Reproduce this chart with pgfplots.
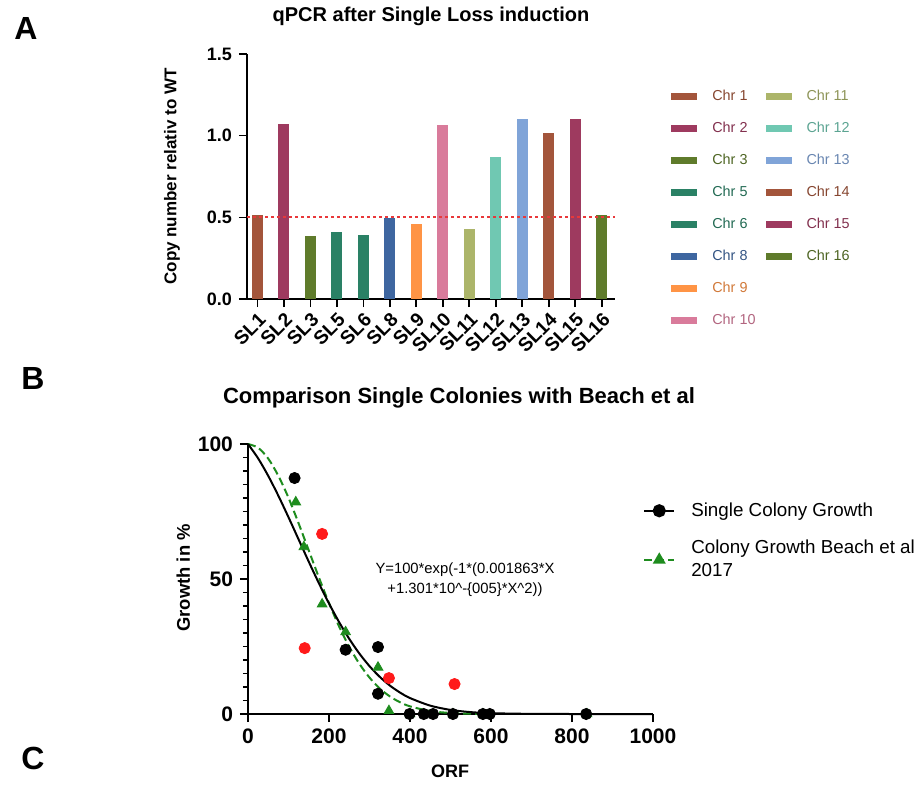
\documentclass[border=0pt]{standalone}
\usepackage{pgfplots}
\pgfplotsset{compat=1.18}
\usepackage{fontspec}
\setmainfont{Liberation Sans}

% bar colours, one per chromosome
\definecolor{cA}{HTML}{A3553B}
\definecolor{cB}{HTML}{9E3A5F}
\definecolor{cC}{HTML}{5F7B2B}
\definecolor{cD}{HTML}{2A8165}
\definecolor{cE}{HTML}{3E66A0}
\definecolor{cF}{HTML}{FF9445}
\definecolor{cG}{HTML}{D97B9B}
\definecolor{cH}{HTML}{ACB56A}
\definecolor{cI}{HTML}{70C8B2}
\definecolor{cJ}{HTML}{80A4D8}
\definecolor{refred}{HTML}{E8383A}
\definecolor{fitgreen}{HTML}{1E8C1E}
\definecolor{ptred}{HTML}{FF1A1A}

\newcommand{\chrbar}[3]{\addplot[ybar, bar shift=0pt, bar width=5.5pt, fill=#1, draw=none] coordinates {(#2,#3)};}
\newcommand{\chr}[2]{\addlegendentry{\textcolor{#1!82!black}{#2}}}

\begin{document}
\begin{tikzpicture}
\path (0,0) rectangle (459pt,390pt);

% panel letters and titles
\node[font=\bfseries\fontsize{16}{16}\selectfont] at (13pt,376.5pt) {A};
\node[font=\bfseries\fontsize{16}{16}\selectfont] at (16.5pt,201.5pt) {B};
\node[font=\bfseries\fontsize{16}{16}\selectfont] at (16.5pt,11.5pt) {C};
\node[font=\bfseries\fontsize{10}{11}\selectfont] at (215.5pt,382.5pt)
  {qPCR after Single Loss induction};
\node[font=\bfseries\fontsize{11}{12}\selectfont] at (229.5pt,191.5pt)
  {Comparison Single Colonies with Beach et al};

% ---------- A: qPCR bars ----------
\begin{axis}[
  at={(123.5pt,241pt)}, anchor=south west,
  scale only axis, width=184pt, height=122.5pt,
  xmin=0.61, xmax=14.5, ymin=0, ymax=1.5,
  axis lines*=left,
  axis line style={line width=0.8pt},
  tick style={black, line width=0.8pt},
  tick align=outside, major tick length=4pt,
  xtick={1,...,14},
  xticklabels={SL1,SL2,SL3,SL5,SL6,SL8,SL9,SL10,SL11,SL12,SL13,SL14,SL15,SL16},
  xticklabel style={rotate=45, anchor=north east, inner sep=1.5pt,
    font=\bfseries\fontsize{9.6}{10}\selectfont},
  ytick={0,0.5,1,1.5}, yticklabels={0.0,0.5,1.0,1.5},
  yticklabel style={font=\bfseries\fontsize{9}{10}\selectfont},
  ylabel={Copy number relativ to WT},
  ylabel style={at={(axis description cs:-0.204,0.5)}, anchor=center,
    font=\bfseries\fontsize{8.5}{10}\selectfont},
  clip=false,
  legend image code/.code={\fill[#1] (0pt,-1.75pt) rectangle (13pt,1.75pt);},
  transpose legend, legend columns=8,
  legend cell align=left,
  legend style={at={(1.152,0.857)}, anchor=north west, draw=none, fill=none,
    inner sep=0pt, row sep=9pt,
    font=\fontsize{7.2}{8}\selectfont,
    nodes={inner sep=0pt, text height=5.5pt, text depth=1.5pt},
    /tikz/every odd column/.append style={column sep=7.5pt},
    /tikz/every even column/.append style={column sep=5pt}},
]
\chrbar{cA}{1}{0.516}
\chrbar{cB}{2}{1.073}
\chrbar{cC}{3}{0.384}
\chrbar{cD}{4}{0.408}
\chrbar{cD}{5}{0.394}
\chrbar{cE}{6}{0.494}
\chrbar{cF}{7}{0.459}
\chrbar{cG}{8}{1.067}
\chrbar{cH}{9}{0.427}
\chrbar{cI}{10}{0.871}
\chrbar{cJ}{11}{1.100}
\chrbar{cA}{12}{1.014}
\chrbar{cB}{13}{1.100}
\chrbar{cC}{14}{0.516}
\chr{cA}{Chr 1}
\chr{cB}{Chr 2}
\chr{cC}{Chr 3}
\chr{cD}{Chr 5}
\chr{cD}{Chr 6}
\chr{cE}{Chr 8}
\chr{cF}{Chr 9}
\chr{cG}{Chr 10}
\chr{cH}{Chr 11}
\chr{cI}{Chr 12}
\chr{cJ}{Chr 13}
\chr{cA}{Chr 14}
\chr{cB}{Chr 15}
\chr{cC}{Chr 16}
\addlegendimage{empty legend}\addlegendentry{}
\addlegendimage{empty legend}\addlegendentry{}
\addplot[color=refred, draw=refred, line width=0.9pt, dash pattern=on 1.5pt off 1.5pt, forget plot]
  coordinates {(0.61,0.5) (14.5,0.5)};
\end{axis}

% ---------- B: growth vs ORF ----------
\begin{axis}[
  at={(124pt,33.5pt)}, anchor=south west,
  scale only axis, width=202.5pt, height=135pt,
  xmin=0, xmax=1000, ymin=0, ymax=100,
  axis lines*=left,
  axis line style={line width=0.8pt},
  tick style={black, line width=0.8pt},
  tick align=outside, major tick length=4pt, minor tick length=2.5pt,
  xtick={0,200,...,1000}, ytick={0,50,100},
  minor ytick={5,10,...,95},
  /pgf/number format/assume math mode=true,
  /pgf/number format/1000 sep={},
  ticklabel style={font=\bfseries\fontsize{10.5}{11}\selectfont},
  xlabel={ORF}, ylabel={Growth in \%},
  xlabel style={at={(axis description cs:0.499,-0.211)}, anchor=center,
    font=\bfseries\fontsize{9}{10}\selectfont},
  ylabel style={at={(axis description cs:-0.16,0.504)}, anchor=center,
    font=\bfseries\fontsize{9.2}{10}\selectfont},
  clip=false,
  legend image code/.code={\draw[mark repeat=2, mark phase=2, #1]
    plot coordinates {(0pt,0pt) (7.5pt,0pt) (15pt,0pt)};},
  legend cell align=left,
  legend style={at={(0.975,0.785)}, anchor=north west, draw=none, fill=none,
    inner sep=0pt, row sep=10.5pt,
    font=\fontsize{9.4}{11.5}\selectfont,
    nodes={inner sep=0pt, align=left},
    /tikz/every odd column/.append style={column sep=8pt}},
]
% Beach et al fit
\addplot[fitgreen, line width=1pt, dash pattern=on 4pt off 2pt, smooth, forget plot]
  coordinates {(0,100) (25,98.6) (50,94.6) (75,88.2) (100,80.1) (125,70.6)
    (150,60.6) (175,50.6) (200,41.1) (225,32.4) (250,24.9) (275,18.6)
    (300,13.5) (325,9.5) (350,6.55) (375,4.38) (400,2.84) (450,1.10)
    (500,0.38) (550,0.12) (600,0.03)};
% single colony fit
\addplot[black, line width=1pt, smooth, forget plot]
  coordinates {(0,100) (25,94.68) (50,88.19) (75,80.83) (100,72.88) (125,64.65)
    (150,56.43) (175,48.46) (200,40.94) (225,34.03) (250,27.83) (275,22.40)
    (300,17.73) (325,13.81) (350,10.58) (375,7.98) (400,5.92) (450,3.10)
    (500,1.52) (550,0.70) (600,0.30) (700,0.05) (800,0.004) (1000,0)};
% Beach et al points
\addplot[only marks, mark=triangle*, mark size=2.8pt, fitgreen, forget plot]
  coordinates {(118,78.5) (138,61.9) (183,40.7) (241,30.4) (321,17.3) (348,1.2)
    (400,0) (506,0) (580,0) (837,0)};
% single colony points
\addplot[only marks, mark=*, mark size=2.8pt, black, forget plot]
  coordinates {(115,87.4) (241,23.8) (321,24.8) (321,7.5) (399,0) (434,0)
    (457,0) (506,0) (580,0) (597,0) (835,0)};
\addplot[only marks, mark=*, mark size=2.8pt, ptred, forget plot]
  coordinates {(140,24.4) (183,66.7) (348,13.3) (510,11.1)};
\addlegendimage{black, line width=1pt, mark=*, mark size=2.8pt}
\addlegendentry{Single Colony Growth}
\addlegendimage{fitgreen, line width=1pt, dash pattern=on 4pt off 2pt, mark=triangle*, mark size=2.8pt, mark options={solid}}
\addlegendentry{Colony Growth Beach et al\\2017}
\end{axis}

\node[font=\fontsize{7.4}{10}\selectfont, align=center] at (232.5pt,100.5pt)
  {Y=100*exp(-1*(0.001863*X\\+1.301*10\textasciicircum-\{005\}*X\textasciicircum2))};
\end{tikzpicture}
\end{document}
